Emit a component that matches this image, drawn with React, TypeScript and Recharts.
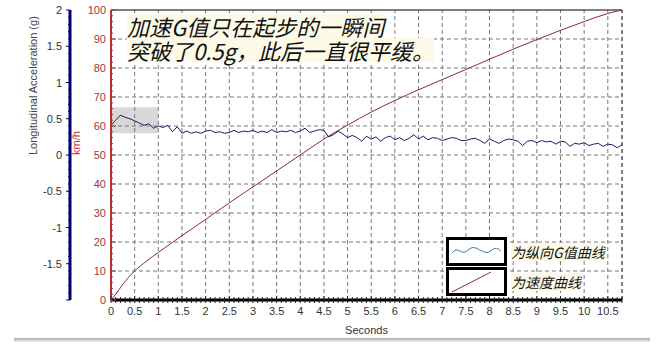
import { LineChart, Line, XAxis, YAxis, ReferenceLine, ReferenceArea } from "recharts";

// longitudinal acceleration (g), sampled every 0.1 s from 0 to 10.8 s
const G_STEP = 0.1;
const gValues = [
  0.41, 0.48, 0.55, 0.52, 0.5, 0.47, 0.44, 0.41, 0.43, 0.37,
  0.4, 0.38, 0.41, 0.32, 0.39, 0.3, 0.33, 0.3, 0.32, 0.3,
  0.33, 0.34, 0.31, 0.32, 0.3, 0.31, 0.34, 0.31, 0.33, 0.32,
  0.34, 0.31, 0.33, 0.31, 0.35, 0.31, 0.33, 0.32, 0.34, 0.31,
  0.33, 0.37, 0.31, 0.33, 0.35, 0.34, 0.25, 0.28, 0.33, 0.29,
  0.24, 0.27, 0.24, 0.19, 0.26, 0.22, 0.25, 0.19, 0.24, 0.26,
  0.21, 0.24, 0.2, 0.23, 0.28, 0.22, 0.26, 0.21, 0.24, 0.23,
  0.2, 0.22, 0.24, 0.23, 0.2, 0.2, 0.22, 0.23, 0.2, 0.16,
  0.22, 0.19, 0.16, 0.2, 0.22, 0.21, 0.19, 0.13, 0.19, 0.2,
  0.17, 0.2, 0.18, 0.19, 0.15, 0.19, 0.18, 0.12, 0.16, 0.15,
  0.17, 0.13, 0.15, 0.16, 0.12, 0.15, 0.14, 0.1, 0.14,
];

// speed (km/h)
const speedTimes = [0, 0.1, 0.25, 0.5, 0.75, 1, 1.25, 1.5, 1.75, 2, 2.5, 3, 3.5, 4, 4.5, 5, 5.5, 6, 6.5, 7, 7.5, 8, 8.5, 9, 9.5, 10, 10.5, 10.8];
const speedValues = [0, 2, 5.4, 10, 13.4, 16.4, 19.3, 22.2, 25, 27.8, 33.5, 39, 44.5, 50, 55.5, 60.3, 64.8, 68.8, 72.5, 76, 79.5, 83, 86.5, 89.8, 93, 96, 98.8, 100];

const gridSeconds = [0.5, 1, 1.5, 2, 2.5, 3, 3.5, 4, 4.5, 5, 5.5, 6, 6.5, 7, 7.5, 8, 8.5, 9, 9.5, 10, 10.5];
const gridSpeeds = [10, 20, 30, 40, 50, 60, 70, 80, 90];

const gData = gValues.map((g, i) => ({ t: Math.round(i * G_STEP * 10) / 10, g }));
const speedData = speedTimes.map((t, i) => ({ t, v: speedValues[i] }));

const secondTicks = Array.from({ length: 109 }, (_, i) => i / 10);
const speedTicks = Array.from({ length: 51 }, (_, i) => i * 2);
const gTicks = Array.from({ length: 41 }, (_, i) => (i - 20) / 10);

const FONT = "'Liberation Sans', Arial, sans-serif";
const CJK = "'Noto Sans CJK SC', sans-serif";

// axis ids: recharts stacks same-side axes by id, "km" ends up next to the plot
const SPEED_AXIS = "km";
const G_AXIS = "lg";

const isMajor = (v: number, step: number) => Math.abs(v / step - Math.round(v / step)) < 1e-6;

function SecondsTick({ x, y, payload }: any) {
  const v = payload.value;
  const major = isMajor(v, 0.5);
  return (
    <g>
      <line x1={x} x2={x} y1={y - (major ? 4 : 3)} y2={y + 3} stroke="#222" />
      {major && (
        <text x={x} y={y + 15} textAnchor="middle" fill="#333" fontSize={11} fontFamily={FONT}>
          {String(v)}
        </text>
      )}
    </g>
  );
}

function SpeedTick({ x, y, payload }: any) {
  const v = payload.value;
  const major = isMajor(v, 10);
  return (
    <g>
      <line x1={x} x2={x + (major ? 5 : 2)} y1={y} y2={y} stroke="#a03030" />
      {major && (
        <text x={x - 5} y={y + 4} textAnchor="end" fill="#9b3a3a" fontSize={11} fontFamily={FONT}>
          {v}
        </text>
      )}
    </g>
  );
}

function GTick({ x, y, payload }: any) {
  const v = payload.value;
  const major = isMajor(v, 0.5);
  return (
    <g>
      <line x1={x - (major ? 4 : 2)} x2={x} y1={y} y2={y} stroke="#00006e" />
      {major && v > -2 && (
        <text x={x - 8} y={y + 4} textAnchor="end" fill="#333" fontSize={11} fontFamily={FONT}>
          {String(v)}
        </text>
      )}
    </g>
  );
}

const hl = { background: "#fdfbe8", display: "inline-block" };

function LegendBox({ top, kind, label }: { top: number; kind: "g" | "v"; label: string }) {
  return (
    <div style={{ position: "absolute", left: 446, top, display: "flex", alignItems: "center" }}>
      <svg width={61} height={29} style={{ display: "block" }}>
        <rect x={1.5} y={1.5} width={58} height={26} fill="#fff" stroke="#000" strokeWidth={3} />
        {kind === "g" ? (
          <path d="M6 16 Q10 11 14 14 T22 13 T30 11 T38 15 T46 13 T55 14" fill="none" stroke="#3c7fb0" strokeWidth={1} />
        ) : (
          <line x1={6} y1={25} x2={45} y2={5} stroke="#8c2a3a" strokeWidth={1} />
        )}
      </svg>
      <span
        style={{
          ...hl,
          marginLeft: 4,
          fontFamily: CJK,
          fontStyle: "italic",
          fontSize: 14,
          color: "#111",
          lineHeight: "18px",
        }}
      >
        {label}
      </span>
    </div>
  );
}

export default function App() {
  return (
    <div style={{ position: "absolute", left: 0, top: 0, width: 661, height: 344, background: "#fff", overflow: "hidden" }}>
      <LineChart width={661} height={344} margin={{ top: 10, right: 39, bottom: 0, left: 0 }}>
        <XAxis
          type="number"
          dataKey="t"
          domain={[0, 10.8]}
          allowDataOverflow
          ticks={secondTicks}
          interval={0}
          tick={<SecondsTick />}
          tickLine={false}
          tickSize={0}
          tickMargin={0}
          height={44}
          axisLine={{ stroke: "#000", strokeWidth: 3 }}
          label={{ value: "Seconds", position: "insideBottom", offset: 10, fill: "#333", fontSize: 11, fontFamily: FONT }}
        />
        <YAxis
          yAxisId={SPEED_AXIS}
          orientation="left"
          width={41}
          domain={[0, 100]}
          ticks={speedTicks}
          interval={0}
          tick={<SpeedTick />}
          tickLine={false}
          tickSize={0}
          tickMargin={0}
          axisLine={{ stroke: "#b83030", strokeWidth: 2 }}
          label={{ value: "km/h", angle: -90, position: "insideLeft", offset: 6, fill: "#c03030", fontSize: 11, fontFamily: FONT }}
        />
        <YAxis
          yAxisId={G_AXIS}
          orientation="left"
          width={70}
          domain={[-2, 2]}
          ticks={gTicks}
          interval={0}
          tick={<GTick />}
          tickLine={false}
          tickSize={0}
          tickMargin={0}
          axisLine={{ stroke: "#00006e", strokeWidth: 3 }}
          label={{ value: "Longitudinal Acceleration (g)", angle: -90, position: "insideLeft", offset: 33, fill: "#444", fontSize: 11, fontFamily: FONT }}
        />
        {gridSpeeds.map((v) => (
          <ReferenceLine key={"h" + v} yAxisId={SPEED_AXIS} y={v} stroke="#777" strokeDasharray="4 3" />
        ))}
        {gridSeconds.map((s) => (
          <ReferenceLine key={"v" + s} yAxisId={SPEED_AXIS} x={s} stroke="#777" strokeDasharray="4 3" />
        ))}
        <ReferenceLine yAxisId={SPEED_AXIS} y={100} stroke="#000" />
        <ReferenceLine yAxisId={SPEED_AXIS} x={10.8} stroke="#000" strokeDasharray="4 3" />
        <Line data={speedData} dataKey="v" yAxisId={SPEED_AXIS} type="monotone" stroke="#8c2a3a" strokeWidth={1} dot={false} isAnimationActive={false} />
        <Line data={gData} dataKey="g" yAxisId={G_AXIS} stroke="#1b1b6b" strokeWidth={1} dot={false} isAnimationActive={false} />
        <ReferenceArea yAxisId={G_AXIS} x1={0} x2={1} y1={0.3} y2={0.66} fill="#b8b8b8" fillOpacity={0.55} stroke="none" />
      </LineChart>

      <div
        style={{
          position: "absolute",
          left: 127,
          top: 14,
          fontFamily: CJK,
          fontStyle: "italic",
          fontSize: 22,
          lineHeight: "24px",
          color: "#111",
        }}
      >
        <div style={{ height: 24 }}><span style={hl}>加速G值只在起步的一瞬间</span></div>
        <div style={{ height: 24 }}><span style={hl}>突破了0.5g，此后一直很平缓。</span></div>
      </div>

      <LegendBox top={237} kind="g" label="为纵向G值曲线" />
      <LegendBox top={267} kind="v" label="为速度曲线" />

      <div style={{ position: "absolute", left: 14, top: 338, width: 636, height: 4, background: "linear-gradient(#aaa, #eee)" }} />
    </div>
  );
}
